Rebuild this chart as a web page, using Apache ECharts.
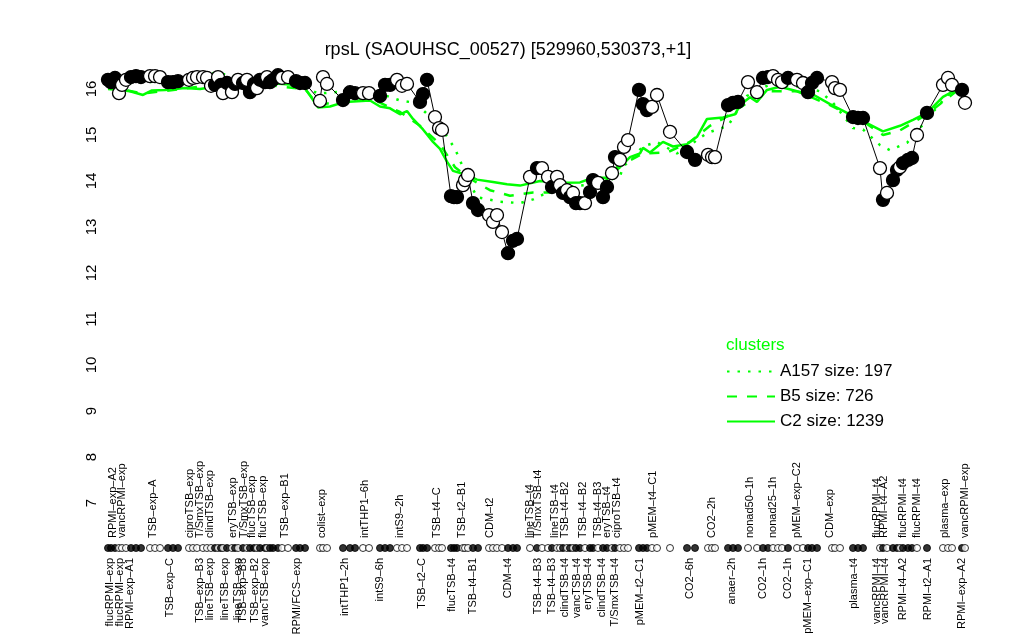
<!DOCTYPE html>
<html><head><meta charset="utf-8">
<script src="https://cdn.jsdelivr.net/npm/echarts@6/dist/echarts.min.js"></script>
<style>html,body{margin:0;padding:0;background:#fff}#c{width:1024px;height:640px}</style>
</head><body><div id="c"></div>
<script>
// sample positions along the x ordering, expression values, filled (1) / open (0)
const xPos = [108,111,115,119,122,126,131,136,141,150,155,160,168,173,178,189,193,197,203,207,211,215,218,221,223,227,232,235,238,243,247,250,254,257,260,265,267,270,273,278,282,288,296,300,305,320,323,327,343,350,355,363,369,380,385,390,397,402,407,420,423,427,435,439,442,451,454,457,463,465,468,473,478,489,493,497,502,508,513,517,530,537,542,548,552,557,560,563,567,570,573,576,580,585,590,593,598,603,607,612,615,620,624,628,639,643,647,652,657,670,687,695,708,712,715,728,733,738,748,757,763,768,773,778,782,788,797,803,808,812,817,832,835,840,853,858,863,880,883,887,893,897,900,903,908,912,917,927,943,948,952,962,965];
const values = [16.20,16.15,16.24,15.91,16.09,16.20,16.26,16.28,16.26,16.28,16.28,16.26,16.15,16.15,16.17,16.20,16.24,16.26,16.26,16.24,16.07,16.09,16.26,16.09,15.91,16.13,15.93,16.11,16.20,16.13,16.20,15.93,16.11,16.02,16.20,16.15,16.26,16.15,16.20,16.30,16.24,16.26,16.17,16.13,16.13,15.74,16.26,16.11,15.76,15.93,15.91,15.91,15.91,15.85,16.09,16.09,16.20,16.07,16.11,15.72,15.89,16.20,15.39,15.15,15.11,13.67,13.65,13.65,13.91,14.02,14.13,13.52,13.37,13.26,13.11,13.26,12.89,12.43,12.70,12.74,14.09,14.28,14.28,14.09,13.87,14.09,13.91,13.74,13.80,13.65,13.74,13.52,13.52,13.52,13.76,14.02,13.96,13.65,13.87,14.17,14.52,14.46,14.74,14.89,15.98,15.67,15.54,15.61,15.87,15.07,14.63,14.46,14.57,14.52,14.52,15.65,15.70,15.72,16.15,15.93,16.24,16.26,16.28,16.20,16.15,16.24,16.20,16.13,15.93,16.13,16.24,16.15,16.02,15.98,15.39,15.37,15.37,14.28,13.59,13.74,14.02,14.24,14.30,14.39,14.46,14.50,15.00,15.48,16.09,16.24,16.09,15.98,15.70];
const filled = [1,1,1,0,0,0,1,1,1,0,0,0,1,1,1,0,0,0,0,0,0,1,0,1,0,1,0,1,0,1,0,1,1,0,1,1,0,1,1,1,0,0,1,1,1,0,0,0,1,1,1,0,0,1,1,1,0,0,0,1,1,1,0,0,0,1,1,1,0,0,0,1,1,0,0,0,0,1,1,1,0,1,0,0,1,0,0,1,0,1,0,1,1,0,1,1,0,1,1,0,1,0,0,0,1,1,1,0,0,0,1,1,0,0,0,1,1,1,0,0,1,1,0,0,0,1,0,0,1,1,1,0,0,0,1,1,1,0,1,0,1,1,0,1,1,1,0,1,0,0,0,1,0];

// condition labels above the sample row
const topLabelPos = [113,122,153,190,200,210,233,244,252,263,285,322,365,400,437,462,490,530,538,555,565,583,598,607,617,653,712,750,773,797,830,877,884,903,917,945,965];
const topLabelText = ["RPMI\u2013exp\u2013A2","vancRPMI\u2013exp","TSB\u2013exp\u2013A","ciproTSB\u2013exp","T/SmxTSB\u2013exp","clindTSB\u2013exp","eryTSB\u2013exp","T/SmxTSB\u2013exp","flucTSB\u2013exp","flucTSB\u2013exp","TSB\u2013exp\u2013B1","colist\u2013exp","intTHP1\u20136h","intS9\u20132h","TSB\u2013t4\u2013C","TSB\u2013t2\u2013B1","CDM\u2013t2","lineTSB\u2013t4","T/SmxTSB\u2013t4","lineTSB\u2013t4","TSB\u2013t4\u2013B2","TSB\u2013t4\u2013B2","TSB\u2013t4\u2013B3","eryTSB\u2013t4","ciproTSB\u2013t4","pMEM\u2013t4\u2013C1","CO2\u20132h","nonad50\u20131h","nonad25\u20131h","pMEM\u2013exp\u2013C2","CDM\u2013exp","flucRPMI\u2013t4","RPMI\u2013t4\u2013A2","flucRPMI\u2013t4","flucRPMI\u2013t4","plasma\u2013exp","vancRPMI\u2013exp"];
// condition labels below the sample row
const bottomLabelPos = [110,120,130,170,200,210,225,238,243,255,265,297,345,380,422,452,473,508,538,552,565,577,588,602,615,640,690,732,763,788,808,854,877,885,903,928,962];
const bottomLabelText = ["flucRPMI\u2013exp","flucRPMI\u2013exp","RPMI\u2013exp\u2013A1","TSB\u2013exp\u2013C","TSB\u2013exp\u2013B3","lineTSB\u2013exp","lineTSB\u2013exp","lineTSB\u2013exp","TSB\u2013exp\u2013B3","TSB\u2013exp\u2013B2","vancTSB\u2013exp","RPMI/FCS\u2013exp","intTHP1\u20132h","intS9\u20136h","TSB\u2013t2\u2013C","flucTSB\u2013t4","TSB\u2013t4\u2013B1","CDM\u2013t4","TSB\u2013t4\u2013B3","TSB\u2013t4\u2013B3","clindTSB\u2013t4","vancTSB\u2013t4","eryTSB\u2013t4","clindTSB\u2013t4","T/SmxTSB\u2013t4","pMEM\u2013t2\u2013C1","CO2\u20136h","anaer\u20132h","CO2\u20131h","CO2\u20131h","pMEM\u2013exp\u2013C1","plasma\u2013t4","vancRPMI\u2013t4","vancRPMI\u2013t4","RPMI\u2013t4\u2013A2","RPMI\u2013t2\u2013A1","RPMI\u2013exp\u2013A2"];

// cluster mean profiles
const clusterA_x = [108,150,200,215,230,250,270,300,318,345,380,400,415,425,440,455,470,477,500,520,533,557,580,600,620,623,643,657,677,690,697,708,728,747,770,800,820,833,853,863,880,890,907,920,933,947,960];
const clusterA_y = [16.10,16.15,16.30,16.35,16.30,16.20,16.25,16.10,15.90,15.95,15.90,15.75,15.70,15.50,15.20,14.70,13.95,13.65,13.55,13.52,13.60,13.85,13.90,13.95,14.10,14.30,14.75,14.85,14.60,14.75,14.90,15.05,15.20,15.85,16.10,16.05,15.95,15.70,15.15,15.12,14.78,14.67,14.83,15.15,15.50,15.85,16.08];
const clusterB_x = [108,143,200,260,305,318,345,370,400,420,440,455,470,490,510,533,565,580,600,617,643,667,690,710,723,740,767,797,830,863,883,900,927,962];
const clusterB_y = [16.05,15.90,16.05,16.10,16.00,15.65,15.75,15.80,15.50,15.20,14.80,14.30,14.05,13.80,13.68,13.75,13.75,13.72,13.85,14.30,14.60,14.62,14.85,15.20,15.35,15.60,15.95,15.95,15.65,15.30,15.00,15.10,15.45,16.05];
const clusterC_x = [108,120,130,143,152,165,185,200,215,230,245,260,275,290,305,318,330,345,370,380,390,400,407,413,423,433,440,447,453,467,477,493,507,520,540,560,580,593,607,620,630,640,643,650,663,673,687,697,707,723,735,740,750,757,767,780,797,813,830,847,863,883,900,913,927,943,962];
const clusterC_y = [16.00,15.98,15.95,15.87,15.97,15.98,16.02,16.00,16.05,16.05,16.05,16.10,16.12,16.10,16.02,15.60,15.62,15.72,15.75,15.62,15.58,15.45,15.52,15.35,15.12,14.85,14.70,14.42,14.22,14.13,14.03,13.98,13.93,13.90,14.00,13.96,13.97,14.07,14.07,14.30,14.52,14.60,14.72,14.62,14.85,14.75,14.80,14.96,15.35,15.38,15.45,15.65,15.82,15.72,15.98,16.05,15.95,15.88,15.67,15.48,15.30,15.08,15.20,15.33,15.48,15.83,16.05];

const yTicks = [7,8,9,10,11,12,13,14,15,16];
const clusterNames = ["A157 size: 197","B5 size: 726","C2 size: 1239"];

const FONT = "Liberation Sans, Arial, Helvetica, sans-serif";
const GREEN = "#00FF00";
const X_MIN = 100, X_MAX = 1000;
const zip = (xs, ys) => xs.map((x, i) => [x, ys[i]]);
const topMap = {}; topLabelPos.forEach((p, i) => topMap[p] = topLabelText[i]);
const botMap = {}; bottomLabelPos.forEach((p, i) => botMap[p] = bottomLabelText[i]);

const mainData = xPos.map((x, i) => ({
  value: [x, values[i]],
  itemStyle: { color: filled[i] ? "#000" : "#fff", borderColor: "#000", borderWidth: 1.3 }
}));
const rowData = xPos.map((x, i) => ({
  value: [x, 0.5],
  itemStyle: { color: filled[i] ? "#000" : "#fff", borderColor: "#000", borderWidth: 1 }
}));

// empty sentinel labels at the axis ends so no real label is dropped by min/max overlap handling
const labelAxis = (pos, vals, map) => ({
  type: "value", gridIndex: 1, min: X_MIN, max: X_MAX, position: pos,
  axisLine: { show: false }, axisTick: { show: false }, splitLine: { show: false },
  axisLabel: { customValues: [X_MIN].concat(vals, [X_MAX]), rotate: 90, margin: 3, fontSize: 11, color: "#000", fontFamily: FONT,
    showMinLabel: false, showMaxLabel: false, hideOverlap: false,
    formatter: v => map[v] || "" }
});

const chart = echarts.init(document.getElementById("c"), null, { renderer: "canvas" });
chart.setOption({
  animation: false,
  backgroundColor: "#fff",
  textStyle: { fontFamily: FONT },
  title: [
    { text: "rpsL (SAOUHSC_00527) [529960,530373,+1]", left: 503, top: 36, textAlign: "center",
      textStyle: { fontFamily: FONT, fontSize: 18, fontWeight: "normal", color: "#000" } },
    { text: "clusters", left: 721, top: 332,
      textStyle: { fontFamily: FONT, fontSize: 17, fontWeight: "normal", color: GREEN } }
  ],
  legend: {
    data: clusterNames, orient: "vertical", left: 721, top: 358, itemWidth: 48, itemHeight: 14, itemGap: 8,
    itemStyle: { opacity: 0 },
    textStyle: { fontFamily: FONT, fontSize: 17, color: "#000" }
  },
  grid: [
    { left: 100, right: 24, top: 89, height: 414 },
    { left: 100, right: 24, top: 541, height: 14 }
  ],
  xAxis: [
    { type: "value", gridIndex: 0, min: X_MIN, max: X_MAX, show: false },
    labelAxis("top", topLabelPos, topMap),
    labelAxis("bottom", bottomLabelPos, botMap)
  ],
  yAxis: [
    { type: "value", gridIndex: 0, min: 7, max: 16, interval: 1,
      axisLine: { show: false }, axisTick: { show: false }, splitLine: { show: false },
      axisLabel: { rotate: 90, fontSize: 15, color: "#000", margin: 1, fontFamily: FONT,
        formatter: v => yTicks.includes(v) ? String(v) : "" } },
    { type: "value", gridIndex: 1, min: 0, max: 1, show: false }
  ],
  series: [
    { name: clusterNames[0], type: "line", xAxisIndex: 0, yAxisIndex: 0, data: zip(clusterA_x, clusterA_y),
      symbol: "none", clip: false, z: 2, lineStyle: { color: GREEN, width: 2.5, type: [2.5, 8] }, itemStyle: { color: GREEN, opacity: 0 } },
    { name: clusterNames[1], type: "line", xAxisIndex: 0, yAxisIndex: 0, data: zip(clusterB_x, clusterB_y),
      symbol: "none", clip: false, z: 2, lineStyle: { color: GREEN, width: 2.5, type: [10, 10] }, itemStyle: { color: GREEN, opacity: 0 } },
    { name: clusterNames[2], type: "line", xAxisIndex: 0, yAxisIndex: 0, data: zip(clusterC_x, clusterC_y),
      symbol: "none", clip: false, z: 2, lineStyle: { color: GREEN, width: 2.5, type: "solid" }, itemStyle: { color: GREEN, opacity: 0 } },
    { name: "samples", type: "line", xAxisIndex: 0, yAxisIndex: 0, data: mainData,
      symbol: "circle", symbolSize: 13, showAllSymbol: true, clip: false, z: 5,
      lineStyle: { color: "#000", width: 1 } },
    { name: "row", type: "scatter", xAxisIndex: 1, yAxisIndex: 1, data: rowData,
      symbol: "circle", symbolSize: 7, z: 5 }
  ]
});
</script></body></html>
